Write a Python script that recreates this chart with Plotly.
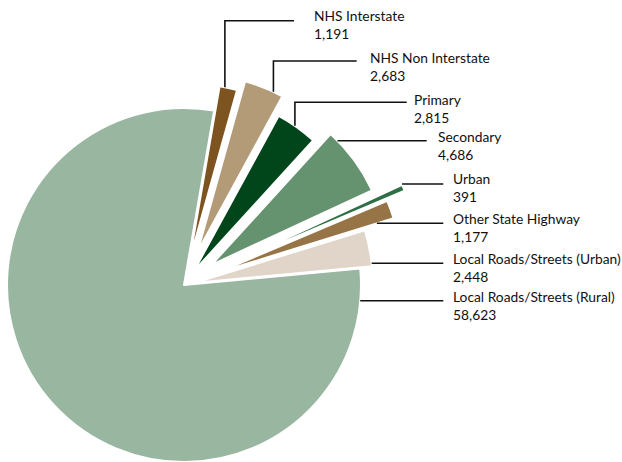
import numpy as np
import plotly.graph_objects as go

# ---- data -------------------------------------------------------------
categories = [
    "NHS Interstate",
    "NHS Non Interstate",
    "Primary",
    "Secondary",
    "Urban",
    "Other State Highway",
    "Local Roads/Streets (Urban)",
    "Local Roads/Streets (Rural)",
]
values = [1191, 2683, 2815, 4686, 391, 1177, 2448, 58623]

# ---- styling ------------------------------------------------------------
colors = ["#7D5420", "#B39B77", "#00461A", "#66936F",
          "#2F6F45", "#967446", "#E0D5C8", "#98B6A0"]
explode_px = [25, 36, 17, 34, 50, 35, 12, 0]      # outward shift of each wedge
radius_px = [177, 177, 177, 177, 190, 185, 177, 177]

W, H = 622, 462
CX, CY = 184, 285          # pie centre in pixels (from top-left)
START = 9.8                # first wedge starts this many degrees clockwise of 12 o'clock

# label placement: kind, text x, caption centre y, leader y, leader end x, arc fraction
label_layout = [
    ("top", 313.0, 15.5, 20.7, 294.0, 0.30),
    ("top", 369.3, 57.3, 61.0, 356.7, 0.75),
    ("top", 413.3, 99.5, 102.3, 406.7, 0.45),
    ("side", 436.7, 137.0, 140.7, 426.7, None),
    ("side", 451.7, 179.0, 184.0, 443.3, None),
    ("side", 451.7, 218.7, 223.3, 443.3, None),
    ("side", 451.7, 258.7, 263.3, 443.3, None),
    ("side", 451.7, 297.0, 300.7, 443.3, None),
]
FONT = "Lato, Roboto, sans-serif"
FONT_SIZE = 13.8
LINE_GAP = 1.3 * FONT_SIZE   # plotly's spacing between <br> lines


def px_x(x):
    return x / W


def px_y(y):
    return 1 - y / H


total = float(sum(values))
spans = [360.0 * v / total for v in values]
starts = START + np.concatenate([[0.0], np.cumsum(spans)[:-1]])

fig = go.Figure()
geom = []
for cat, v, col, d, R, a0, span in zip(categories, values, colors, explode_px,
                                         radius_px, starts, spans):
    mid = np.radians(a0 + span / 2)
    cx = CX + d * np.sin(mid)
    cy = CY - d * np.cos(mid)
    geom.append((cx, cy, R, a0, span))
    dx = [max(0.0, (cx - R) / W), min(1.0, (cx + R) / W)]
    dy = [max(0.0, 1 - (cy + R) / H), min(1.0, 1 - (cy - R) / H)]
    fig.add_trace(go.Pie(
        values=[v, total - v],
        labels=[cat, " "],
        sort=False,
        direction="clockwise",
        rotation=float(a0),
        marker=dict(colors=[col, "rgba(0,0,0,0)"],
                    line=dict(color=["white", "rgba(0,0,0,0)"], width=[2, 0])),
        textinfo="none",
        hoverinfo="skip",
        showlegend=False,
        domain=dict(x=dx, y=dy),
    ))


def wedge_polygon(cx, cy, R, a0, span, n=60):
    ang = np.radians(np.linspace(a0, a0 + span, n))
    xs = np.concatenate([[cx], cx + R * np.sin(ang), [cx]])
    ys = np.concatenate([[cy], cy - R * np.cos(ang), [cy]])
    return xs, ys


shapes = []
annotations = []
for cat, v, g, lay in zip(categories, values, geom, label_layout):
    kind, tx, ty, ly, lend, frac = lay
    cx, cy, R, a0, span = g
    if kind == "top":
        a = np.radians(a0 + frac * span)
        ax, ay = cx + R * np.sin(a), cy - R * np.cos(a)
        path = (f"M {px_x(ax)},{px_y(ay)} L {px_x(ax)},{px_y(ly)} "
                f"L {px_x(lend)},{px_y(ly)}")
    else:
        xs, ys = wedge_polygon(cx, cy, R, a0, span)
        hits = []
        for i in range(len(xs) - 1):
            y1, y2 = ys[i], ys[i + 1]
            if (y1 - ly) * (y2 - ly) <= 0 and y1 != y2:
                t = (ly - y1) / (y2 - y1)
                hits.append(xs[i] + t * (xs[i + 1] - xs[i]))
        ax = max(hits) if hits else xs[np.argmin(np.abs(ys - ly))]
        path = f"M {px_x(ax)},{px_y(ly)} L {px_x(lend)},{px_y(ly)}"
    shapes.append(dict(type="path", path=path, xref="paper", yref="paper",
                       line=dict(color="#111111", width=1.6)))
    annotations.append(dict(
        text=f"{cat}<br>{v:,}", x=px_x(tx - 1), y=px_y(ty + LINE_GAP / 2),
        xref="paper", yref="paper", align="left",
        xanchor="left", yanchor="middle", showarrow=False,
        font=dict(family=FONT, size=FONT_SIZE, color="#111111"),
    ))

fig.update_layout(
    width=W, height=H,
    margin=dict(l=0, r=0, t=0, b=0),
    paper_bgcolor="white",
    plot_bgcolor="white",
    shapes=shapes,
    annotations=annotations,
)

fig.write_html("out.html")
